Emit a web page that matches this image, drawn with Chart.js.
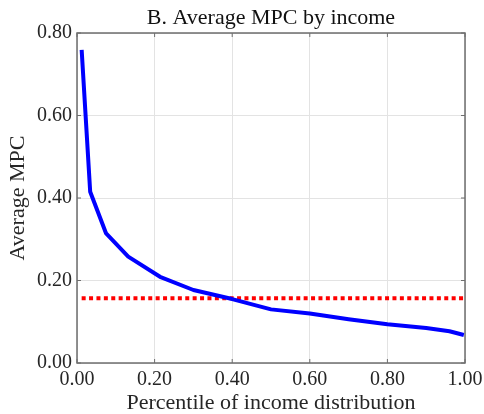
<!DOCTYPE html>
<html>
<head>
<meta charset="utf-8">
<script src="https://cdn.jsdelivr.net/npm/chart.js@4/dist/chart.umd.min.js"></script>
<style>
  html, body { margin: 0; padding: 0; background: white; }
  #wrap { width: 484px; height: 414px; }
</style>
</head>
<body>
<div id="wrap"><canvas id="canvas" width="484" height="414"></canvas></div>
<script>
// Data
var percentile = [0.012, 0.034, 0.075, 0.132, 0.214, 0.30, 0.40, 0.50, 0.60, 0.70, 0.80, 0.90, 0.96, 0.997];
var avgMpc = [0.759, 0.415, 0.314, 0.258, 0.209, 0.177, 0.155, 0.130, 0.120, 0.106, 0.094, 0.085, 0.077, 0.068];
var meanMpc = 0.157;
var meanRange = [0.012, 0.997];
var xTicks = [0, 0.2, 0.4, 0.6, 0.8, 1.0];
var yTicks = [0, 0.2, 0.4, 0.6, 0.8];
var chartTitle = 'B. Average MPC by income';

var serif = "'Liberation Serif', 'Times New Roman', serif";
var axisColor = '#6e6e6e';
var textColor = '#262626';

// Box around plot, small inward ticks (MATLAB style) and title centred on the plot
var boxPlugin = {
    id: 'box',
    afterDraw: function(chart) {
        var ctx = chart.ctx;
        var a = chart.chartArea;
        var xs = chart.scales.x, ys = chart.scales.y;
        ctx.save();
        ctx.strokeStyle = axisColor;
        ctx.lineWidth = 1.5;
        ctx.strokeRect(a.left, a.top, a.right - a.left, a.bottom - a.top);
        ctx.lineWidth = 1;
        var len = 4;
        xTicks.forEach(function(v) {
            var px = xs.getPixelForValue(v);
            ctx.beginPath();
            ctx.moveTo(px, a.bottom); ctx.lineTo(px, a.bottom - len);
            ctx.moveTo(px, a.top); ctx.lineTo(px, a.top + len);
            ctx.stroke();
        });
        yTicks.forEach(function(v) {
            var py = ys.getPixelForValue(v);
            ctx.beginPath();
            ctx.moveTo(a.left, py); ctx.lineTo(a.left + len, py);
            ctx.moveTo(a.right, py); ctx.lineTo(a.right - len, py);
            ctx.stroke();
        });
        // title
        ctx.fillStyle = '#111';
        ctx.font = '22px ' + serif;
        ctx.textAlign = 'center';
        ctx.textBaseline = 'alphabetic';
        ctx.fillText(chartTitle, (a.left + a.right) / 2, 24);
        ctx.restore();
    }
};

var ctx = document.getElementById('canvas').getContext('2d');
var chart = new Chart(ctx, {
    type: 'scatter',
    data: {
        datasets: [{
            label: 'Average MPC',
            data: percentile.map(function(p, i) { return { x: p, y: avgMpc[i] }; }),
            showLine: true,
            borderColor: '#0000ff',
            borderWidth: 4,
            pointRadius: 0,
            tension: 0,
            borderJoinStyle: 'round'
        }, {
            label: 'Mean MPC',
            data: meanRange.map(function(p) { return { x: p, y: meanMpc }; }),
            showLine: true,
            borderColor: '#ff0000',
            borderWidth: 4,
            borderDash: [4, 3.4],
            pointRadius: 0
        }]
    },
    options: {
        responsive: false,
        animation: false,
        layout: { padding: { left: 0, right: 19, top: 33, bottom: 0 } },
        plugins: {
            legend: { display: false },
            tooltip: { enabled: false },
            title: { display: false }
        },
        scales: {
            x: {
                type: 'linear',
                min: 0, max: 1,
                afterFit: function(s) { s.height = 51; s.paddingLeft = 0; s.paddingRight = 0; },
                afterBuildTicks: function(s) { s.ticks = xTicks.map(function(v) { return { value: v }; }); },
                ticks: {
                    color: textColor,
                    padding: 5,
                    maxRotation: 0,
                    font: { family: serif, size: 20 },
                    callback: function(v) { return v.toFixed(2); }
                },
                grid: { color: '#e3e3e3', drawTicks: false },
                border: { display: false },
                title: {
                    display: true,
                    text: 'Percentile of income distribution',
                    color: textColor,
                    font: { family: serif, size: 22, lineHeight: 1.0 },
                    padding: { top: 0, bottom: 0 }
                }
            },
            y: {
                min: 0, max: 0.8,
                afterFit: function(s) { s.width = 77; s.paddingTop = 0; s.paddingBottom = 0; },
                afterBuildTicks: function(s) { s.ticks = yTicks.map(function(v) { return { value: v }; }); },
                ticks: {
                    color: textColor,
                    padding: 5,
                    font: { family: serif, size: 20 },
                    callback: function(v) { return v.toFixed(2); }
                },
                grid: { color: '#e3e3e3', drawTicks: false },
                border: { display: false },
                title: {
                    display: true,
                    text: 'Average MPC',
                    color: textColor,
                    font: { family: serif, size: 22, lineHeight: 1.2 },
                    padding: { top: 5, bottom: 0 }
                }
            }
        }
    },
    plugins: [boxPlugin]
});
</script>
</body>
</html>
